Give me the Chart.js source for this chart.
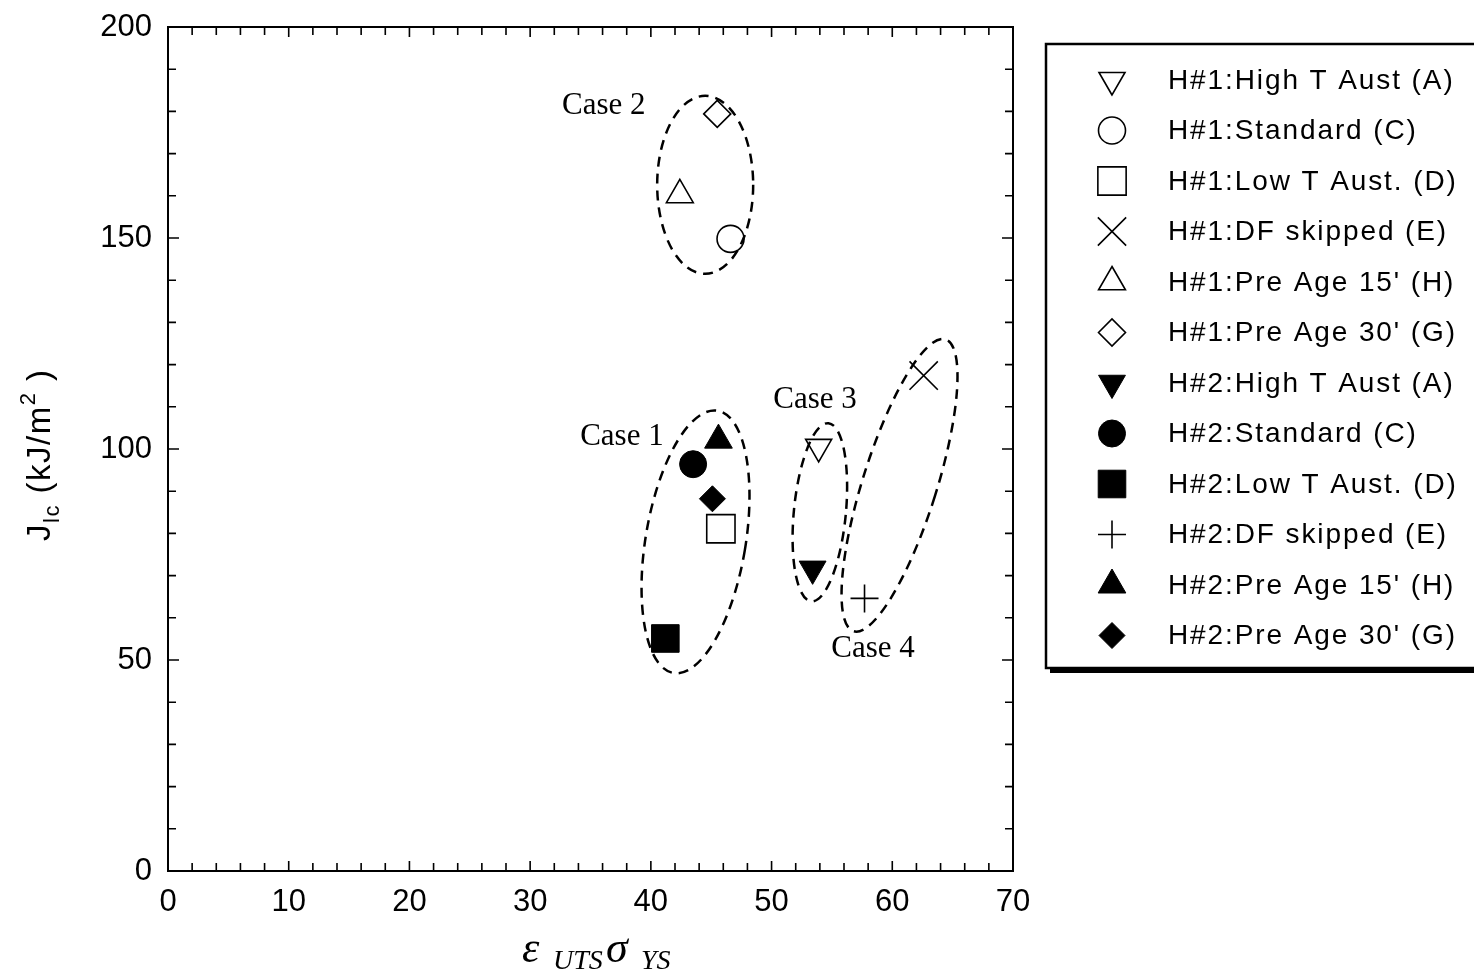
<!DOCTYPE html>
<html>
<head>
<meta charset="utf-8">
<script src="https://cdn.jsdelivr.net/npm/chart.js@4.4.1/dist/chart.umd.min.js"></script>
<style>
  html, body { margin: 0; padding: 0; background: #fff; }
  #wrap { position: relative; width: 1474px; height: 976px; }
</style>
</head>
<body>
<div id="wrap"><canvas id="c" width="1474" height="976"></canvas></div>
<script>
// series, in legend order
const seriesNames = [
  'H#1:High T Aust (A)',
  'H#1:Standard (C)',
  'H#1:Low T Aust. (D)',
  'H#1:DF skipped (E)',
  "H#1:Pre Age 15' (H)",
  "H#1:Pre Age 30' (G)",
  'H#2:High T Aust (A)',
  'H#2:Standard (C)',
  'H#2:Low T Aust. (D)',
  'H#2:DF skipped (E)',
  "H#2:Pre Age 15' (H)",
  "H#2:Pre Age 30' (G)",
];
// ε_UTS·σ_YS and J_Ic, one point per series
const xValues = [53.9, 46.6, 45.8, 62.6, 42.4, 45.5, 53.4, 43.5, 41.2, 57.7, 45.6, 45.1];
const yValues = [100.5, 149.8, 81.1, 117.4, 160.2, 179.4, 71.6, 96.4, 55.1, 64.6, 102.1, 88.2];

// axis ticks
const xTicks = [0, 10, 20, 30, 40, 50, 60, 70];
const yTicks = [0, 50, 100, 150, 200];

// grouping ellipses ("Case n") - centres in data units
const caseNames = ['Case 1', 'Case 2', 'Case 3', 'Case 4'];
const caseCenterX = [43.7, 44.5, 54.0, 60.6];
const caseCenterY = [78.0, 162.6, 85.0, 91.4];
const caseLabelX = [37.6, 36.1, 53.6, 58.4];
const caseLabelY = [102.8, 181.3, 111.6, 52.6];

// ellipse shape (pixels / degrees)
const caseShape = [
  { rx: 50, ry: 133, tilt: 9.5 },
  { rx: 48, ry: 89, tilt: 0 },
  { rx: 26, ry: 89.5, tilt: 5.5 },
  { rx: 37, ry: 153, tilt: 17.5 },
];

// marker look for every series
const markers = [
  { style: 'triangle', rot: 180, r: 15, fill: false },
  { style: 'circle', rot: 0, r: 13.5, fill: false },
  { style: 'rect', rot: 0, r: 20, fill: false },
  { style: 'crossRot', rot: 0, r: 20, fill: false },
  { style: 'triangle', rot: 0, r: 15.5, fill: false },
  { style: 'rectRot', rot: 0, r: 13.5, fill: false },
  { style: 'triangle', rot: 180, r: 15.5, fill: true },
  { style: 'circle', rot: 0, r: 13.5, fill: true },
  { style: 'rect', rot: 0, r: 19.5, fill: true },
  { style: 'cross', rot: 0, r: 14, fill: false },
  { style: 'triangle', rot: 0, r: 16, fill: true },
  { style: 'rectRot', rot: 0, r: 13, fill: true },
];

const SANS = '"Liberation Sans", Arial, sans-serif';
const SERIF = '"Liberation Serif", "Times New Roman", serif';

// dashed ellipses behind the markers
const caseEllipses = {
  id: 'caseEllipses',
  beforeDatasetsDraw(chart) {
    const { ctx, scales: { x, y } } = chart;
    ctx.save();
    ctx.strokeStyle = '#000';
    ctx.lineWidth = 2.5;
    ctx.setLineDash([10, 7]);
    caseNames.forEach((_, i) => {
      const s = caseShape[i];
      ctx.beginPath();
      ctx.ellipse(x.getPixelForValue(caseCenterX[i]), y.getPixelForValue(caseCenterY[i]),
        s.rx, s.ry, s.tilt * Math.PI / 180, 0, Math.PI * 2);
      ctx.stroke();
    });
    ctx.restore();
  },
};

// frame with inward ticks on all four sides
const frame = {
  id: 'frame',
  afterDatasetsDraw(chart) {
    const { ctx, chartArea: a, scales: { x, y } } = chart;
    ctx.save();
    ctx.strokeStyle = '#000';
    ctx.lineWidth = 2;
    ctx.strokeRect(a.left, a.top, a.right - a.left, a.bottom - a.top);
    ctx.lineWidth = 1.6;
    ctx.beginPath();
    for (let v = x.min; v <= x.max; v += 2) {
      const px = x.getPixelForValue(v);
      const len = v % 10 === 0 ? 10 : 8;
      ctx.moveTo(px, a.bottom); ctx.lineTo(px, a.bottom - len);
      ctx.moveTo(px, a.top); ctx.lineTo(px, a.top + len);
    }
    for (let v = y.min; v <= y.max; v += 10) {
      const py = y.getPixelForValue(v);
      const len = v % 50 === 0 ? 11 : 8;
      ctx.moveTo(a.left, py); ctx.lineTo(a.left + len, py);
      ctx.moveTo(a.right, py); ctx.lineTo(a.right - len, py);
    }
    ctx.stroke();
    ctx.restore();
  },
};

// titles, case labels, legend box
const decorations = {
  id: 'decorations',
  afterDraw(chart) {
    const { ctx, scales: { x, y } } = chart;
    ctx.save();
    ctx.fillStyle = '#000';

    // case labels
    ctx.font = '31px ' + SERIF;
    ctx.textAlign = 'center';
    ctx.textBaseline = 'middle';
    caseNames.forEach((name, i) => {
      ctx.fillText(name, x.getPixelForValue(caseLabelX[i]), y.getPixelForValue(caseLabelY[i]));
    });

    // y title: J_Ic (kJ/m^2)
    ctx.save();
    ctx.translate(50, 541);
    ctx.rotate(-Math.PI / 2);
    ctx.textAlign = 'left';
    ctx.textBaseline = 'alphabetic';
    ctx.letterSpacing = '1.5px';
    let cx = 0;
    const piece = (txt, size, dy) => {
      ctx.font = size + 'px ' + SANS;
      ctx.fillText(txt, cx, dy);
      cx += ctx.measureText(txt).width;
    };
    piece('J', 33, 0);
    piece('lc', 22, 9);
    piece(' (kJ/m', 33, 0);
    piece('2', 22, -15);
    piece(' )', 33, 0);
    ctx.restore();

    // x title: ε_UTS σ_YS
    ctx.textAlign = 'left';
    ctx.textBaseline = 'alphabetic';
    ctx.font = 'italic 44px ' + SERIF;
    ctx.fillText('ε', 522, 962);
    ctx.font = 'italic 28px ' + SERIF;
    ctx.fillText('UTS', 553, 969);
    ctx.font = 'italic 44px ' + SERIF;
    ctx.fillText('σ', 606, 962);
    ctx.font = 'italic 28px ' + SERIF;
    ctx.fillText('YS', 641, 969);

    // legend box with heavy shadow
    const bx = 1046, by = 44, bw = 430, bh = 624;
    ctx.fillRect(bx + 4, by + bh, bw, 5);
    ctx.fillRect(bx + bw - 1, by + 4, 5, bh);
    ctx.strokeStyle = '#000';
    ctx.lineWidth = 2.5;
    ctx.strokeRect(bx, by, bw, bh);

    // legend rows
    ctx.font = '28px ' + SANS;
    ctx.letterSpacing = '1.9px';
    ctx.textBaseline = 'middle';
    chart.data.datasets.forEach((ds, i) => {
      const ry = 80 + i * 50.5;
      ctx.save();
      ctx.fillStyle = ds.backgroundColor;
      ctx.strokeStyle = ds.borderColor;
      ctx.lineWidth = ds.borderWidth;
      Chart.helpers.drawPoint(ctx, {
        pointStyle: ds.pointStyle,
        rotation: ds.pointRotation,
        radius: ds.pointRadius,
        borderWidth: ds.borderWidth,
      }, 1112, ry);
      ctx.restore();
      ctx.fillText(ds.label, 1168, ry + 1);
    });
    ctx.restore();
  },
};

new Chart(document.getElementById('c'), {
  type: 'scatter',
  data: {
    datasets: seriesNames.map((name, i) => ({
      label: name,
      data: [{ x: xValues[i], y: yValues[i] }],
      pointStyle: markers[i].style,
      pointRotation: markers[i].rot,
      pointRadius: markers[i].r,
      pointHoverRadius: markers[i].r,
      backgroundColor: markers[i].fill ? '#000' : 'rgba(0,0,0,0)',
      borderColor: '#000',
      borderWidth: markers[i].fill ? 1 : 1.6,
    })),
  },
  options: {
    responsive: false,
    animation: false,
    devicePixelRatio: 1,
    events: [],
    layout: { padding: { left: 0, top: 27, right: 461, bottom: 0 } },
    plugins: {
      legend: { display: false },
      tooltip: { enabled: false },
    },
    scales: {
      x: {
        type: 'linear',
        min: 0,
        max: 70,
        afterBuildTicks: (s) => { s.ticks = xTicks.map((v) => ({ value: v })); },
        afterFit: (s) => { s.height = 105; s.paddingLeft = 0; s.paddingRight = 0; },
        grid: { display: false, drawTicks: false },
        border: { display: false },
        ticks: { color: '#000', font: { family: SANS, size: 31 }, padding: 13, maxRotation: 0 },
      },
      y: {
        type: 'linear',
        min: 0,
        max: 200,
        afterBuildTicks: (s) => { s.ticks = yTicks.map((v) => ({ value: v })); },
        afterFit: (s) => { s.width = 168; s.paddingTop = 0; s.paddingBottom = 0; },
        grid: { display: false, drawTicks: false },
        border: { display: false },
        ticks: { color: '#000', font: { family: SANS, size: 31 }, padding: 16 },
      },
    },
  },
  plugins: [caseEllipses, frame, decorations],
});
</script>
</body>
</html>
